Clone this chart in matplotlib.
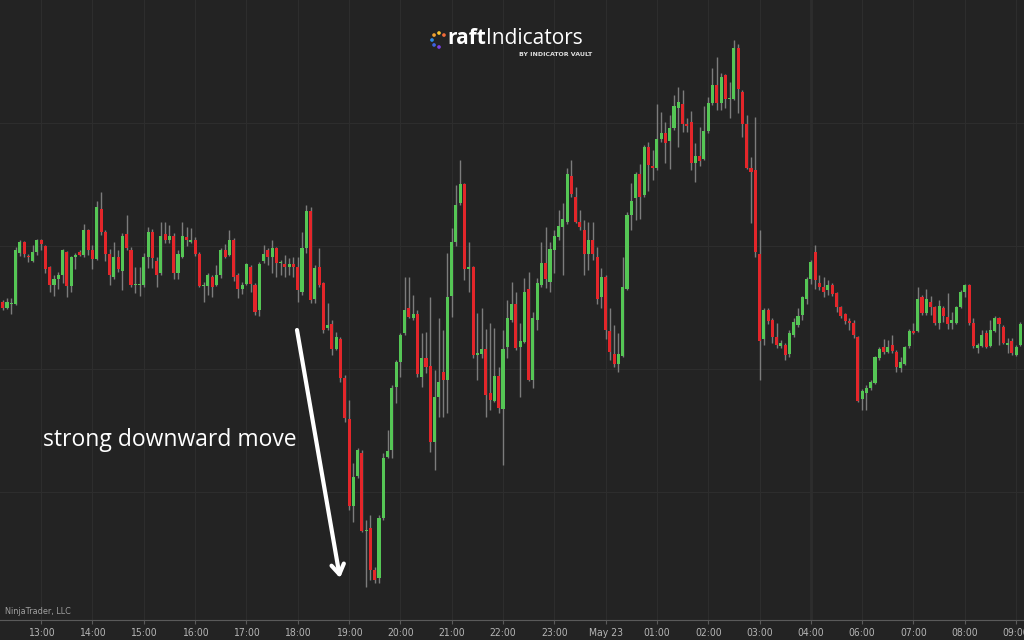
import numpy as np
import matplotlib.pyplot as plt

# 5-minute bars, prices in chart points
opens = [338, 332, 336, 336, 387, 398, 384, 379, 388, 400,
         394, 373, 355, 361, 365, 388, 354, 383, 388, 385,
         410, 390, 381, 431, 408, 386, 363, 383, 369, 406,
         390, 355, 355, 355, 383, 408, 379, 367, 406, 400,
         404, 367, 383, 403, 398, 400, 386, 354, 354, 363,
         355, 365, 390, 385, 400, 365, 351, 356, 373, 355,
         330, 379, 390, 383, 392, 377, 376, 373, 376, 373,
         348, 392, 429, 341, 373, 357, 312, 316, 291, 301,
         262, 221, 134, 164, 187, 109, 112, 70, 62, 122,
         183, 190, 253, 278, 307, 332, 322, 326, 263, 282,
         274, 198, 243, 268, 260, 344, 398, 437, 456, 371,
         373, 285, 286, 291, 247, 239, 264, 231, 293, 320,
         336, 293, 298, 351, 260, 320, 355, 377, 358, 390,
         403, 413, 418, 464, 443, 418, 410, 386, 400, 383,
         343, 363, 309, 286, 276, 284, 351, 425, 442, 466,
         445, 493, 474, 472, 501, 507, 499, 512, 532, 536,
         516, 518, 477, 484, 481, 509, 537, 555, 537, 565,
         541, 541, 592, 548, 516, 472, 470, 386, 301, 330,
         320, 303, 294, 295, 286, 305, 315, 325, 341, 361,
         388, 357, 353, 350, 355, 347, 333, 326, 319, 317,
         303, 241, 247, 252, 257, 282, 293, 288, 295, 288,
         272, 276, 294, 309, 309, 343, 327, 338, 333, 317,
         332, 323, 317, 317, 333, 348, 355, 317, 292, 294,
         307, 294, 309, 322, 313, 295, 299, 285, 295]

highs = [340, 342, 342, 393, 400, 399, 386, 395, 401, 401,
         395, 374, 365, 368, 391, 389, 384, 387, 390, 416,
         411, 395, 439, 448, 410, 391, 398, 390, 407, 425,
         393, 373, 373, 387, 413, 411, 383, 418, 418, 415,
         407, 390, 418, 413, 412, 403, 388, 358, 367, 365,
         375, 392, 396, 410, 402, 367, 358, 377, 375, 357,
         378, 395, 392, 400, 393, 380, 385, 382, 383, 383,
         408, 435, 433, 375, 392, 358, 337, 320, 308, 303,
         265, 240, 177, 192, 190, 120, 125, 73, 125, 187,
         210, 255, 280, 307, 363, 363, 345, 330, 307, 308,
         343, 270, 322, 310, 387, 412, 455, 480, 457, 398,
         374, 327, 332, 311, 317, 312, 273, 310, 340, 358,
         348, 317, 362, 368, 328, 362, 398, 413, 398, 410,
         430, 437, 472, 480, 453, 430, 420, 418, 418, 393,
         372, 365, 332, 315, 307, 383, 428, 457, 468, 476,
         495, 498, 490, 536, 528, 518, 525, 545, 553, 550,
         522, 529, 497, 513, 534, 543, 572, 583, 567, 566,
         558, 600, 596, 550, 525, 483, 523, 410, 332, 332,
         322, 317, 300, 297, 310, 322, 332, 344, 363, 380,
         395, 365, 363, 360, 357, 348, 334, 327, 322, 320,
         304, 251, 255, 260, 284, 293, 301, 300, 305, 290,
         283, 294, 311, 317, 353, 345, 351, 344, 334, 340,
         334, 347, 328, 334, 350, 356, 356, 322, 297, 310,
         310, 320, 324, 323, 315, 302, 302, 295, 318]

lows = [330, 331, 326, 335, 384, 383, 378, 378, 385, 390,
        367, 348, 344, 351, 357, 343, 348, 371, 384, 383,
        385, 371, 380, 405, 379, 355, 361, 368, 350, 390,
        353, 347, 344, 353, 372, 372, 353, 365, 397, 397,
        361, 361, 382, 394, 397, 384, 353, 338, 345, 343,
        354, 362, 382, 384, 359, 342, 346, 355, 348, 325,
        324, 377, 375, 367, 363, 365, 363, 365, 363, 338,
        345, 387, 337, 337, 353, 307, 310, 285, 290, 258,
        218, 130, 118, 162, 108, 53, 60, 57, 57, 120,
        182, 182, 237, 263, 305, 322, 320, 263, 253, 267,
        188, 170, 223, 223, 227, 323, 394, 435, 360, 348,
        282, 260, 282, 223, 230, 238, 227, 175, 282, 318,
        290, 243, 297, 259, 252, 310, 353, 352, 348, 367,
        400, 365, 416, 443, 417, 410, 365, 370, 380, 336,
        332, 301, 280, 273, 268, 283, 350, 410, 420, 421,
        443, 449, 460, 470, 498, 477, 471, 510, 493, 508,
        508, 470, 458, 474, 480, 507, 535, 530, 530, 532,
        522, 540, 527, 503, 471, 417, 383, 260, 295, 316,
        297, 292, 292, 280, 283, 303, 313, 320, 336, 356,
        351, 350, 343, 345, 344, 328, 322, 316, 310, 302,
        238, 230, 230, 250, 256, 280, 286, 287, 287, 268,
        268, 275, 292, 306, 308, 325, 325, 325, 315, 311,
        318, 311, 311, 316, 332, 343, 315, 292, 287, 293,
        292, 293, 308, 295, 296, 287, 285, 284, 294]

closes = [332, 338, 336, 390, 398, 386, 383, 388, 400, 396,
          371, 355, 361, 365, 390, 354, 383, 385, 385, 410,
          390, 381, 433, 408, 386, 365, 383, 371, 404, 392,
          355, 356, 355, 383, 408, 382, 365, 404, 400, 404,
          367, 386, 404, 400, 400, 386, 354, 355, 365, 353,
          365, 390, 383, 400, 363, 351, 355, 376, 356, 328,
          376, 386, 383, 392, 377, 378, 373, 376, 373, 350,
          392, 429, 340, 372, 355, 310, 315, 291, 303, 262,
          222, 134, 163, 190, 109, 110, 70, 60, 122, 182,
          189, 252, 278, 305, 330, 323, 326, 266, 282, 273,
          198, 243, 258, 260, 343, 398, 435, 456, 371, 373,
          285, 287, 291, 245, 240, 264, 232, 291, 322, 336,
          292, 299, 348, 260, 322, 357, 377, 361, 391, 404,
          414, 421, 466, 446, 418, 413, 386, 400, 386, 341,
          363, 310, 288, 276, 286, 353, 425, 439, 466, 443,
          493, 475, 472, 501, 507, 497, 512, 534, 538, 516,
          514, 477, 484, 479, 509, 537, 555, 537, 563, 541,
          542, 592, 551, 516, 472, 468, 388, 299, 330, 319,
          303, 295, 297, 285, 307, 318, 324, 343, 361, 378,
          360, 353, 348, 355, 346, 333, 324, 319, 317, 305,
          239, 249, 252, 258, 283, 291, 288, 293, 289, 273,
          278, 293, 309, 307, 341, 327, 341, 333, 317, 334,
          324, 316, 320, 333, 348, 355, 317, 294, 295, 305,
          293, 310, 322, 316, 297, 297, 287, 293, 316]

tick_labels = ['13:00', '14:00', '15:00', '16:00', '17:00', '18:00', '19:00',
               '20:00', '21:00', '22:00', '23:00', 'May 23', '01:00', '02:00',
               '03:00', '04:00', '06:00', '07:00', '08:00', '09:00']
first_hour_bar = 9
bars_per_hour = 12
session_break_bar = 189
price_grid = [148, 271, 394, 517]

BG = '#232323'
UP = '#55c655'
DOWN = '#e3262a'

o = np.array(opens, float)
h = np.array(highs, float)
l = np.array(lows, float)
c = np.array(closes, float)
x = np.arange(len(o))
up = c >= o

fig = plt.figure(figsize=(10.24, 6.4), dpi=100, facecolor=BG)
ax = fig.add_axes([0, 20 / 640, 1, 620 / 640], facecolor=BG)

ax.vlines(x, l, h, color='#7c7c7c', lw=1, zorder=2)
ax.bar(x, np.maximum(np.abs(c - o), 1.0), bottom=np.minimum(o, c), width=0.72,
       color=np.where(up, UP, DOWN), linewidth=0, zorder=3)

ax.set_xlim(-0.63, 238.85)
ax.set_ylim(20, 640)
ticks = first_hour_bar + bars_per_hour * np.arange(len(tick_labels))
ax.set_xticks(ticks)
ax.set_xticklabels(tick_labels, fontsize=7.5, fontstretch='condensed')
ax.set_yticks(price_grid)
ax.tick_params(axis='y', left=False, labelleft=False)
ax.tick_params(axis='x', colors='#5a5a5a', length=3, pad=3, labelcolor='#b5b5b5')
ax.grid(True, color='#2d2d2d', lw=0.8, zorder=0)
ax.axvline(session_break_bar, color='#555555', lw=1, zorder=1)
for s in ['top', 'right', 'left']:
    ax.spines[s].set_visible(False)
ax.spines['bottom'].set_color('#5a5a5a')

# overlay in pixel coordinates for the annotations
ov = fig.add_axes([0, 0, 1, 1])
ov.set_xlim(0, 1024)
ov.set_ylim(640, 0)
ov.axis('off')
ov.patch.set_alpha(0)

ov.text(43, 440, 'strong downward move', color='white', fontsize=16.5,
        family='Open Sans', va='center')
ov.annotate('', xy=(340, 578), xytext=(297, 330),
            arrowprops=dict(arrowstyle='->,head_length=0.7,head_width=0.45',
                            color='white', lw=3, shrinkA=0, shrinkB=0))

# logo: a "C" made of coloured dots, then the wordmark
dot_angles = np.radians([-45, -90, -135, 180, 135, 90])
dot_colors = ['#f26b3a', '#f7c531', '#f0a030', '#2d8ce6', '#3f62e0', '#7b3fe4']
ov.scatter(439 + 7 * np.cos(dot_angles), 40 + 7 * np.sin(dot_angles),
           s=7, c=dot_colors, zorder=5, linewidths=0)
t1 = ov.text(447, 39, 'raft', color='white', fontsize=15, family='Open Sans',
             weight='bold', va='center')
ov.annotate('Indicators', xy=(1, 0.5), xycoords=t1, color='white', fontsize=15,
            family='Open Sans', va='center')
ov.text(592, 54, 'BY INDICATOR VAULT', color='#e0e0e0', fontsize=4.5,
        weight='bold', ha='right', va='center')

ov.text(5, 612, 'NinjaTrader, LLC', color='#a0a0a0', fontsize=6.5,
        fontstretch='condensed', va='center')

fig.savefig('out.png', dpi=100, facecolor=BG)
